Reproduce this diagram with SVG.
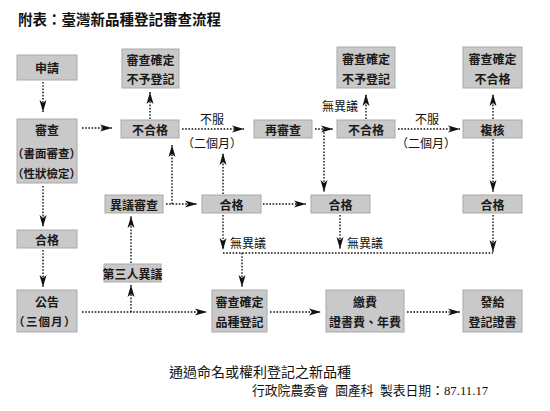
<svg xmlns="http://www.w3.org/2000/svg" width="550" height="411" viewBox="0 0 550 411">
<style>
.bx{fill:#c9c9c9;stroke:#a9a9a9;stroke-width:1}
.t{font-family:"Noto Sans CJK TC","Noto Sans CJK SC",sans-serif;font-size:12px;font-weight:bold;fill:#1a1a1a;text-anchor:middle;dominant-baseline:central}
.p{font-family:"Noto Sans CJK TC","Noto Sans CJK SC",sans-serif;font-size:11.5px;font-weight:bold;fill:#1a1a1a;dominant-baseline:central}
.lb{font-family:"Noto Sans CJK TC","Noto Sans CJK SC",sans-serif;font-size:12px;fill:#111;dominant-baseline:central}
.c{fill:none;stroke:#111;stroke-width:1.4;stroke-dasharray:1.6 1.6}
.a{marker-end:url(#ah)}
</style>
<defs>
<marker id="ah" viewBox="0 0 12 8" refX="12" refY="4" markerWidth="12" markerHeight="8" markerUnits="userSpaceOnUse" orient="auto">
<path d="M0,0.5 L12,4 L0,7.5 L3,4 Z" fill="#111"/>
</marker>
</defs>
<rect width="550" height="411" fill="#fff"/>
<text x="18" y="18" font-family="Noto Sans CJK TC,sans-serif" font-size="14.5" font-weight="bold" fill="#111" dominant-baseline="central">附表：臺灣新品種登記審查流程</text>

<g id="n-apply"><rect class="bx" x="17" y="55" width="60" height="25"/><text class="t" x="47" y="67.5">申請</text></g>
<g id="n-review"><rect class="bx" x="17" y="119" width="60" height="64"/><text class="t" x="47" y="129">審查</text><text class="p" y="153"><tspan x="12">（</tspan><tspan x="23.5">書面審查</tspan><tspan x="69.5">）</tspan></text><text class="p" y="173"><tspan x="12">（</tspan><tspan x="23.5">性狀檢定</tspan><tspan x="69.5">）</tspan></text></g>
<g id="n-passL"><rect class="bx" x="17" y="230" width="60" height="18"/><text class="t" x="47" y="239">合格</text></g>
<g id="n-announce"><rect class="bx" x="17" y="290" width="60" height="42"/><text class="t" x="47" y="301">公告</text><text class="p" y="321" font-size="12"><tspan x="13">（</tspan><tspan x="26" letter-spacing="1">三個月</tspan><tspan x="64">）</tspan></text></g>
<g id="n-fail1"><rect class="bx" x="121" y="120" width="58" height="18"/><text class="t" x="150" y="129">不合格</text></g>
<g id="n-reject1"><rect class="bx" x="122" y="49" width="57" height="39"/><text class="t" x="150.5" y="59">審查確定</text><text class="t" x="150.5" y="78">不予登記</text></g>
<g id="n-rereview"><rect class="bx" x="254" y="120" width="58" height="18"/><text class="t" x="283" y="129">再審查</text></g>
<g id="n-fail2"><rect class="bx" x="337" y="120" width="58" height="18"/><text class="t" x="366" y="129">不合格</text></g>
<g id="n-reject2"><rect class="bx" x="337" y="47" width="58" height="41"/><text class="t" x="366" y="58">審查確定</text><text class="t" x="366" y="78">不予登記</text></g>
<g id="n-recheck"><rect class="bx" x="463" y="120" width="59" height="18"/><text class="t" x="492.5" y="129">複核</text></g>
<g id="n-reject3"><rect class="bx" x="463" y="47" width="59" height="41"/><text class="t" x="492.5" y="58">審查確定</text><text class="t" x="492.5" y="78">不合格</text></g>
<g id="n-objreview"><rect class="bx" x="105" y="195" width="58" height="18"/><text class="t" x="134" y="204">異議審查</text></g>
<g id="n-passM"><rect class="bx" x="202" y="195" width="59" height="18"/><text class="t" x="231.5" y="204">合格</text></g>
<g id="n-passR1"><rect class="bx" x="311" y="195" width="59" height="18"/><text class="t" x="340.5" y="204">合格</text></g>
<g id="n-passR2"><rect class="bx" x="463" y="195" width="59" height="18"/><text class="t" x="492.5" y="204">合格</text></g>
<g id="n-third"><rect class="bx" x="104" y="264" width="57" height="18"/><text class="t" x="132.5" y="273">第三人異議</text></g>
<g id="n-register"><rect class="bx" x="212" y="290" width="55" height="42"/><text class="t" x="239.5" y="301">審查確定</text><text class="t" x="239.5" y="321">品種登記</text></g>
<g id="n-fee"><rect class="bx" x="326" y="290" width="78" height="42"/><text class="t" x="365" y="301">繳費</text><text class="t" x="365" y="321">證書費、年費</text></g>
<g id="n-cert"><rect class="bx" x="463" y="290" width="59" height="42"/><text class="t" x="492.5" y="301">發給</text><text class="t" x="492.5" y="321">登記證書</text></g>

<g id="connectors">
<path class="c a" d="M43,82 V112"/>
<path class="c a" d="M82,128 H112"/>
<path class="c a" d="M150,119 V92"/>
<path class="c a" d="M182,129 H244"/>
<path class="c a" d="M315,129 H333"/>
<path class="c a" d="M324,129 V192"/>
<path class="c a" d="M366,119 V94"/>
<path class="c a" d="M398,129 H460"/>
<path class="c a" d="M493,119 V94"/>
<path class="c a" d="M493,139 V192"/>
<path class="c a" d="M43,186 V227"/>
<path class="c a" d="M43,250 V287"/>
<path class="c a" d="M82,312 H207"/>
<path class="c a" d="M131,312 V285"/>
<path class="c a" d="M131,263 V216"/>
<path class="c a" d="M166,204 H197"/>
<path class="c a" d="M172,204 V145"/>
<path class="c a" d="M223,194 V153"/>
<path class="c a" d="M263,204 H306"/>
<path class="c a" d="M223,215 V250"/>
<path class="c a" d="M340,215 V249"/>
<path class="c a" d="M493,215 V252"/>
<path class="c" d="M223,253 H493"/>
<path class="c a" d="M242,253 V287"/>
<path class="c a" d="M270,312 H321"/>
<path class="c a" d="M407,312 H460"/>
<text class="lb" x="200" y="118">不服</text>
<text class="lb" y="142"><tspan x="182">（</tspan><tspan x="194">二個月</tspan><tspan x="230">）</tspan></text>
<text class="lb" x="415" y="118">不服</text>
<text class="lb" y="142"><tspan x="396">（</tspan><tspan x="408">二個月</tspan><tspan x="444">）</tspan></text>
<text class="lb" x="322" y="105">無異議</text>
<text class="lb" x="230" y="242">無異議</text>
<text class="lb" x="347" y="242">無異議</text>
</g>

<text x="260" y="371" font-family="Noto Sans CJK TC,sans-serif" font-size="14" fill="#111" text-anchor="middle" dominant-baseline="central">通過命名或權利登記之新品種</text>
<text x="252" y="391" font-family="Liberation Serif,Noto Sans CJK TC,serif" font-size="12.8" fill="#111" dominant-baseline="central" xml:space="preserve">行政院農委會  園產科  製表日期：87.11.17</text>
</svg>
